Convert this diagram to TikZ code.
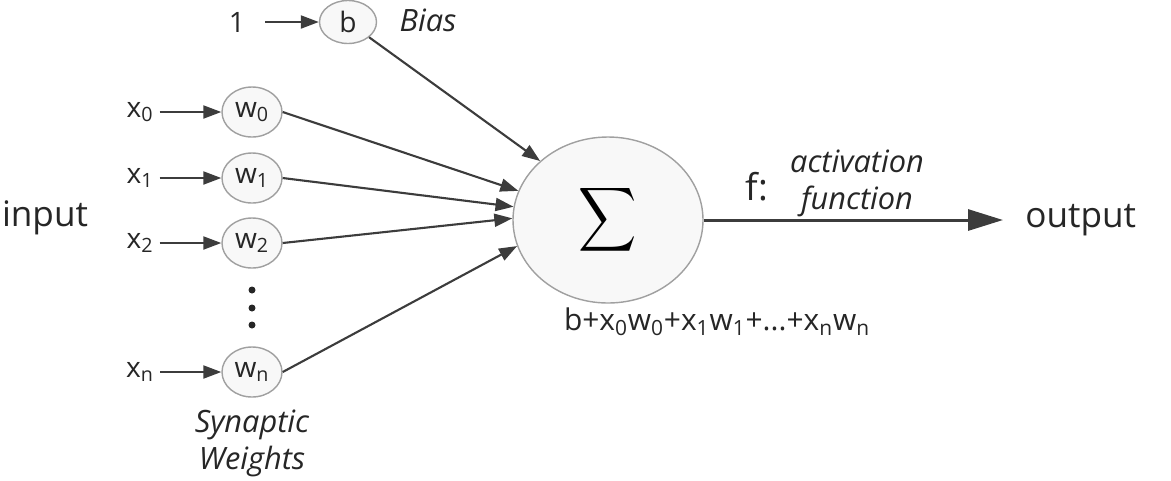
\documentclass[tikz,border=0pt]{standalone}
\usepackage{fontspec}
\setmainfont{Open Sans}
\usetikzlibrary{arrows.meta,shapes.geometric}
\definecolor{ink}{HTML}{262626}
\definecolor{ring}{HTML}{A0A0A0}
\definecolor{pale}{HTML}{F8F8F8}

\begin{document}
\begin{tikzpicture}[every node/.style={text=ink},
    wt/.style={ellipse, draw=ring, line width=0.8pt, fill=pale, minimum width=1.2cm, minimum height=1cm, inner sep=0pt, font=\fontsize{16}{18}\selectfont},
    lab/.style={font=\fontsize{16}{18}\selectfont},
    big/.style={font=\fontsize{20}{24}\selectfont},
    note/.style={font=\fontsize{17.5}{21}\selectfont\itshape, align=center},
    feed/.style={draw=ink!90, line width=1.2pt, -{Triangle[length=0.36cm,width=0.26cm]}}]
  \useasboundingbox (0,0) rectangle (23.42,-9.6);
  \node[lab, inner xsep=0.4cm] (one) at (4.74,-0.44) {1};
  \node[wt, minimum width=1.14cm, minimum height=0.86cm] (b) at (6.96,-0.44) {b};
  \node[note] (bias) at (8.56,-0.4) {Bias};
  \draw[feed] (one) -- (b);
  \foreach \i/\y in {0/-2.24,1/-3.56,2/-4.86,n/-7.44} {
    \node[lab] (x\i) at (2.8,\y) {x\textsubscript{\i}};
    \node[wt] (w\i) at (5.04,\y) {w\textsubscript{\i}};
    \draw[feed] (x\i) -- (w\i);
  }
  \foreach \y in {-5.8,-6.16,-6.5} \fill[ink] (5.04,\y) circle (0.07);
  \node[big] (input) at (0.9,-4.36) {input};
  \node[wt, minimum width=3.8cm, minimum height=3.32cm] (sum) at (12.16,-4.4) {\color{black}\scalebox{2.3}[2.55]{$\displaystyle\sum$}};
  \draw[feed] (b) -- (sum.139);
  \draw[feed] (w0.east) -- (sum.162);
  \draw[feed] (w1.east) -- (sum.172);
  \draw[feed] (w2.east) -- (sum.179);
  \draw[feed] (wn.east) -- (sum.196);
  \node[big, anchor=west, inner xsep=0.44cm] (out) at (20.06,-4.4) {output};
  \draw[feed, line width=1.7pt, -{Triangle[length=0.7cm,width=0.42cm]}] (sum) -- (out);
  \node[font=\fontsize{21}{24}\selectfont] (f) at (15.14,-3.74) {f:};
  \node[note] (act) at (17.14,-3.66) {activation\\function};
  \node[lab, font=\fontsize{17}{20}\selectfont] (formula) at (14.34,-6.44) {b+x\textsubscript{0}w\textsubscript{0}+x\textsubscript{1}w\textsubscript{1}+...+x\textsubscript{n}w\textsubscript{n}};
  \node[note] (syn) at (5.04,-8.86) {Synaptic\\Weights};
\end{tikzpicture}
\end{document}
